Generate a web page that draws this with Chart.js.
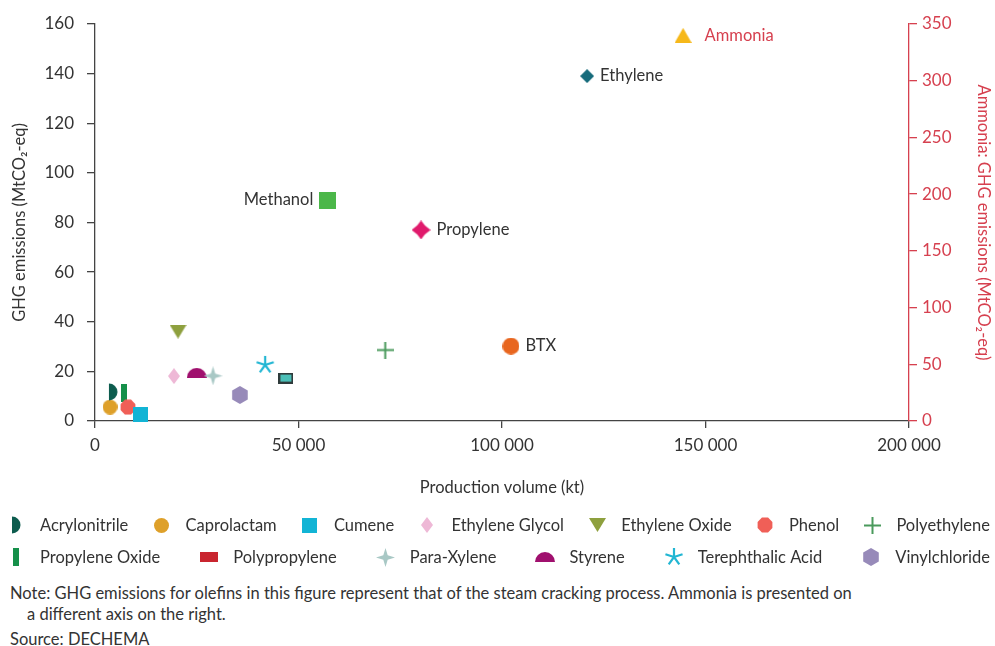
<!DOCTYPE html>
<html>
<head>
<meta charset="utf-8">
<script src="https://cdn.jsdelivr.net/npm/chart.js@4/dist/chart.umd.min.js"></script>
<style>
body { margin: 0; background: #fff; font-family: Lato, "Noto Sans", sans-serif; }
#wrap { position: relative; width: 995px; height: 646px; }
#chart { position: absolute; left: 0; top: 0; }
.note { position: absolute; left: 10px; font-size: 16.5px; color: #333; line-height: 21px; white-space: nowrap; }
</style>
</head>
<body>
<div id="wrap">
  <canvas id="chart" width="995" height="575"></canvas>
  <div class="note" style="top:583px">Note: GHG emissions for olefins in this figure represent that of the steam cracking process. Ammonia is presented on<br><span style="padding-left:17px">a different axis on the right.</span></div>
  <div class="note" style="top:629px">Source: DECHEMA</div>
</div>
<script>
// products, production volume (kt) and GHG emissions (MtCO2-eq)
const products = ['Acrylonitrile', 'Caprolactam', 'Cumene', 'Ethylene Glycol', 'Ethylene Oxide', 'Phenol',
  'Polyethylene', 'Propylene Oxide', 'Polypropylene', 'Para-Xylene', 'Styrene', 'Terephthalic Acid',
  'Vinylchloride', 'Ammonia', 'Ethylene', 'Methanol', 'Propylene', 'BTX'];
const production = [4400, 3700, 11300, 19400, 20400, 8100, 71300, 7100, 46900, 29000, 25000, 41800,
  35600, 144500, 120900, 57200, 80100, 102200];
const emissions = [11.7, 5.6, 2.8, 18.1, 36, 5.6, 28.6, 11.3, 17.3, 18.2, 19.4, 22.6,
  10.5, 340, 139, 89, 77, 30.2];
const rightAxisProducts = ['Ammonia'];
const labelledProducts = ['Ammonia', 'Ethylene', 'Methanol', 'Propylene', 'BTX'];

const xTicks = [0, 50000, 100000, 150000, 200000];
const yTicks = [0, 20, 40, 60, 80, 100, 120, 140, 160];
const y2Ticks = [0, 50, 100, 150, 200, 250, 300, 350];

const legendRows = [
  ['Acrylonitrile', 'Caprolactam', 'Cumene', 'Ethylene Glycol', 'Ethylene Oxide', 'Phenol', 'Polyethylene'],
  ['Propylene Oxide', 'Polypropylene', 'Para-Xylene', 'Styrene', 'Terephthalic Acid', 'Vinylchloride']
];

const RED = '#d6404f';
const TEXT = '#333';
const TEXT_FONT = '16.5px Lato';

// small canvases used as point styles
function marker(w, h, draw) {
  const c = document.createElement('canvas');
  c.width = w; c.height = h;
  draw(c.getContext('2d'), w, h);
  return c;
}
function poly(g, pts, col) {
  g.fillStyle = col;
  g.beginPath();
  pts.forEach((p, i) => i ? g.lineTo(p[0], p[1]) : g.moveTo(p[0], p[1]));
  g.closePath();
  g.fill();
}
function circle(d, col) {
  return marker(d, d, (g) => { g.fillStyle = col; g.beginPath(); g.arc(d / 2, d / 2, d / 2, 0, 2 * Math.PI); g.fill(); });
}
function square(w, h, col, stroke) {
  return marker(w, h, (g) => {
    g.fillStyle = col; g.fillRect(0, 0, w, h);
    if (stroke) { g.strokeStyle = stroke; g.lineWidth = 2; g.strokeRect(1, 1, w - 2, h - 2); }
  });
}
function diamond(w, h, col) {
  return marker(w, h, (g) => poly(g, [[w / 2, 0], [w, h / 2], [w / 2, h], [0, h / 2]], col));
}
function ngon(n, r, col, rot) {
  const d = Math.ceil(r * 2);
  return marker(d, d, (g) => {
    const pts = [];
    for (let i = 0; i < n; i++) {
      const a = rot + i * 2 * Math.PI / n;
      pts.push([d / 2 + r * Math.cos(a), d / 2 + r * Math.sin(a)]);
    }
    poly(g, pts, col);
  });
}

const styles = {
  'Acrylonitrile': marker(10, 18, (g, w, h) => {
    g.fillStyle = '#0d5c4e'; g.beginPath();
    g.arc(1, h / 2, h / 2 - 0.5, -Math.PI / 2, Math.PI / 2); g.closePath(); g.fill();
  }),
  'Caprolactam': circle(15, '#dea02a'),
  'Cumene': square(15, 15, '#12b4d5'),
  'Ethylene Glycol': diamond(12, 16, '#eeb8d6'),
  'Ethylene Oxide': marker(17, 14, (g, w, h) => poly(g, [[0, 0], [w, 0], [w / 2, h]], '#8ea03e')),
  'Phenol': ngon(8, 8, '#f05f57', Math.PI / 8),
  'Polyethylene': marker(17, 17, (g, w, h) => {
    g.strokeStyle = '#4a9a5c'; g.lineWidth = 2; g.beginPath();
    g.moveTo(w / 2, 0); g.lineTo(w / 2, h); g.moveTo(0, h / 2); g.lineTo(w, h / 2); g.stroke();
  }),
  'Propylene Oxide': square(6, 18, '#15904a'),
  'Polypropylene': square(15, 11, '#4bbfb7', '#2f3b3b'),
  'Para-Xylene': marker(19, 19, (g, w, h) => {
    const c = w / 2, k = 2.2;
    poly(g, [[c, 0], [c + k, c - k], [w, c], [c + k, c + k], [c, h], [c - k, c + k], [0, c], [c - k, c - k]], '#a8c8c5');
  }),
  'Styrene': marker(20, 10, (g, w, h) => {
    g.fillStyle = '#a0106e'; g.beginPath(); g.arc(w / 2, h, w / 2, Math.PI, 2 * Math.PI); g.closePath(); g.fill();
  }),
  'Terephthalic Acid': marker(20, 20, (g, w, h) => {
    g.strokeStyle = '#22b6d3'; g.lineWidth = 2.2; g.beginPath();
    for (let i = 0; i < 5; i++) {
      const a = -Math.PI / 2 + i * 2 * Math.PI / 5;
      g.moveTo(w / 2, h / 2); g.lineTo(w / 2 + 9 * Math.cos(a), h / 2 + 9 * Math.sin(a));
    }
    g.stroke();
  }),
  'Vinylchloride': ngon(6, 9, '#978ab9', -Math.PI / 2),
  'Ammonia': marker(17, 15, (g, w, h) => poly(g, [[w / 2, 0], [w, h], [0, h]], '#f6b81a')),
  'Ethylene': diamond(14, 14, '#166b7b'),
  'Methanol': square(17, 17, '#4bb749'),
  'Propylene': marker(19, 19, (g, w, h) => {
    const c = w / 2, k = 3.6;
    g.fillStyle = '#e01a6c'; g.beginPath();
    g.moveTo(c, 0); g.quadraticCurveTo(c + k, c - k, w, c);
    g.quadraticCurveTo(c + k, c + k, c, h); g.quadraticCurveTo(c - k, c + k, 0, c);
    g.quadraticCurveTo(c - k, c - k, c, 0); g.fill();
  }),
  'BTX': circle(17, '#e8661f')
};
const legendStyles = Object.assign({}, styles, { 'Polypropylene': square(18, 10, '#c9252f') });
const labelColors = { 'Ammonia': RED };
const labelSide = { 'Methanol': 'left' };

const datasets = products.map((name, i) => ({
  label: name,
  data: [{ x: production[i], y: emissions[i] }],
  yAxisID: rightAxisProducts.includes(name) ? 'y2' : 'y',
  pointStyle: styles[name],
  pointRadius: 8,
  clip: false
}));

const pointLabels = {
  id: 'pointLabels',
  afterDatasetsDraw(chart) {
    const ctx = chart.ctx;
    ctx.save();
    ctx.font = TEXT_FONT;
    ctx.textBaseline = 'middle';
    chart.data.datasets.forEach((ds, i) => {
      if (!labelledProducts.includes(ds.label)) return;
      const pt = chart.getDatasetMeta(i).data[0];
      const w = ds.pointStyle.width / 2;
      ctx.fillStyle = labelColors[ds.label] || TEXT;
      if (labelSide[ds.label] === 'left') {
        ctx.textAlign = 'right';
        ctx.fillText(ds.label, pt.x - w - 6, pt.y);
      } else {
        ctx.textAlign = 'left';
        ctx.fillText(ds.label, pt.x + w + (ds.label === 'Ammonia' ? 13 : 6), pt.y);
      }
    });
    ctx.restore();
  }
};

const rowLegend = {
  id: 'rowLegend',
  afterDraw(chart) {
    const ctx = chart.ctx;
    ctx.save();
    ctx.font = TEXT_FONT;
    ctx.fillStyle = TEXT;
    ctx.textBaseline = 'middle';
    ctx.textAlign = 'left';
    legendRows.forEach((row, r) => {
      const y = 525 + r * 32;
      const left = 7, right = 990, textOff = 33;
      const widths = row.map(n => textOff + ctx.measureText(n).width);
      const gap = (right - left - widths.reduce((a, b) => a + b, 0)) / (row.length - 1);
      let x = left;
      row.forEach((n, i) => {
        const img = legendStyles[n];
        ctx.drawImage(img, Math.round(x + 9 - img.width / 2), Math.round(y - img.height / 2));
        ctx.fillText(n, x + textOff, y + 1);
        x += widths[i] + gap;
      });
    });
    ctx.restore();
  }
};

function fmtThousands(v) {
  return v === 0 ? '0' : (v / 1000) + ' 000';
}
function fixedTicks(list) {
  return (scale) => { scale.ticks = list.map(v => ({ value: v })); };
}

Chart.defaults.font.family = 'Lato, "Noto Sans", sans-serif';
Chart.defaults.font.size = 17;
Chart.defaults.color = TEXT;
const titleFont = { size: 16.5 };

new Chart(document.getElementById('chart'), {
  type: 'scatter',
  data: { datasets: datasets },
  options: {
    responsive: false,
    animation: false,
    layout: { padding: { top: 24, bottom: 74, left: 0, right: 0 } },
    plugins: { legend: { display: false }, tooltip: { enabled: false } },
    scales: {
      x: {
        type: 'linear', min: 0, max: 200000,
        afterBuildTicks: fixedTicks(xTicks),
        ticks: { padding: 7, callback: fmtThousands, color: TEXT, maxRotation: 0 },
        grid: { drawOnChartArea: false, tickLength: 7, color: '#444', lineWidth: 1.3 },
        border: { color: '#444', width: 1.3 },
        title: { display: true, text: 'Production volume (kt)', color: TEXT, font: titleFont, padding: { top: 4, bottom: 3 } },
        afterFit: (s) => { s.height = 80; }
      },
      y: {
        position: 'left', min: 0, max: 160,
        afterBuildTicks: fixedTicks(yTicks),
        ticks: { padding: 13, color: TEXT },
        grid: { drawOnChartArea: false, tickLength: 8, color: '#444', lineWidth: 1.3 },
        border: { color: '#444', width: 1.3 },
        title: { display: true, text: 'GHG emissions (MtCO₂-eq)', color: TEXT, font: titleFont, padding: { top: 10, bottom: 0 } },
        afterFit: (s) => { s.width = 95; }
      },
      y2: {
        position: 'right', min: 0, max: 350,
        afterBuildTicks: fixedTicks(y2Ticks),
        ticks: { padding: 5, color: RED },
        grid: { drawOnChartArea: false, tickLength: 8, color: RED, lineWidth: 1.3 },
        border: { color: RED, width: 1.3 },
        title: { display: true, text: 'Ammonia: GHG emissions (MtCO₂-eq)', color: RED, font: titleFont, padding: { top: 2, bottom: 0 } },
        afterFit: (s) => { s.width = 86; }
      }
    }
  },
  plugins: [pointLabels, rowLegend]
});
</script>
</body>
</html>
